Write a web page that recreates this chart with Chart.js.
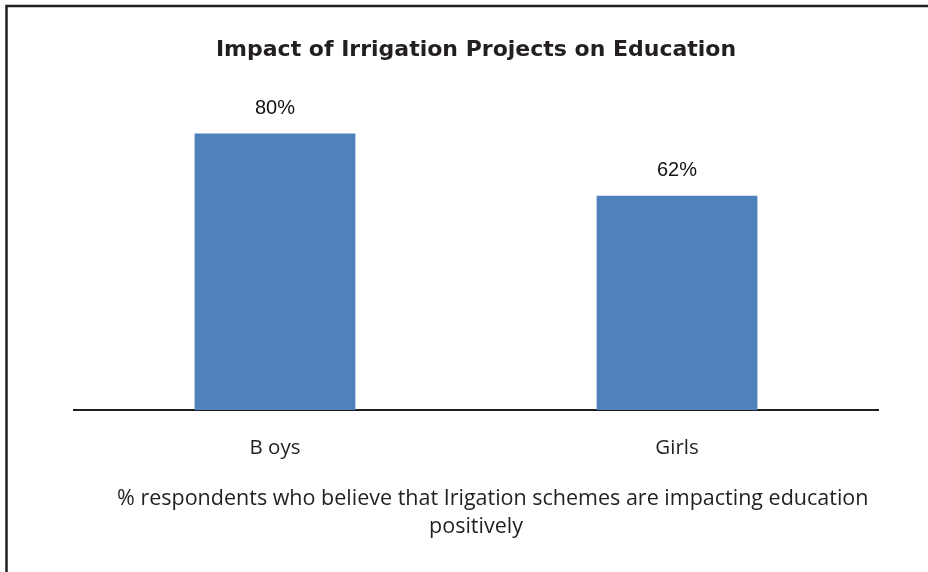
<!DOCTYPE html>
<html>
<head>
<meta charset="utf-8">
<script src="https://cdn.jsdelivr.net/npm/chart.js@4"></script>
<style>
html,body{margin:0;padding:0;background:#fff;}
#wrap{width:928px;height:572px;position:relative;}
</style>
</head>
<body>
<div id="wrap"><canvas id="c" width="928" height="572"></canvas></div>
<script>
const categories = ["B oys", "Girls"];
const values = [80, 62];
const valueLabels = ["80%", "62%"];
const chartTitle = "Impact of Irrigation Projects on Education";
const caption = ["      % respondents who believe that Irigation schemes are impacting education", "positively"];

const frame = {
  id: 'frame',
  beforeDraw(chart) {
    const ctx = chart.ctx;
    ctx.save();
    ctx.fillStyle = '#fff';
    ctx.fillRect(0, 0, chart.width, chart.height);
    ctx.strokeStyle = '#231f20';
    ctx.lineWidth = 2.5;
    ctx.beginPath();
    ctx.moveTo(6.5, chart.height + 5);
    ctx.lineTo(6.5, 6);
    ctx.lineTo(chart.width + 5, 6);
    ctx.stroke();
    ctx.restore();
  }
};
const valueLabelPlugin = {
  id: 'valueLabels',
  afterDatasetsDraw(chart) {
    const ctx = chart.ctx;
    const meta = chart.getDatasetMeta(0);
    ctx.save();
    ctx.font = '20px "Liberation Sans"';
    ctx.fillStyle = '#111';
    ctx.textAlign = 'center';
    ctx.textBaseline = 'middle';
    meta.data.forEach((bar, i) => {
      ctx.fillText(valueLabels[i], bar.x, bar.y - 25);
    });
    ctx.restore();
  }
};

new Chart(document.getElementById('c'), {
  type: 'bar',
  data: {
    labels: categories,
    datasets: [{
      data: values,
      backgroundColor: '#4F81BD',
      borderWidth: 0,
      barPercentage: 0.4,
      categoryPercentage: 1.0
    }]
  },
  options: {
    responsive: false,
    animation: false,
    devicePixelRatio: 1,
    layout: { padding: { left: 74, right: 50, top: 0, bottom: 0 } },
    plugins: {
      legend: { display: false },
      tooltip: { enabled: false },
      title: {
        display: true,
        text: chartTitle,
        color: '#231f20',
        font: { family: 'DejaVu Sans', size: 22, weight: 'bold', lineHeight: 1.2 },
        padding: { top: 37, bottom: 1 }
      }
    },
    scales: {
      y: { display: false, min: 0, max: 100 },
      x: {
        afterFit(scale) { scale.height = 162; },
        grid: { display: false, drawTicks: false },
        border: { display: true, color: '#231f20', width: 2 },
        ticks: {
          color: '#231f20',
          padding: 26,
          font: { family: 'Open Sans', size: 20.5 }
        },
        title: {
          display: true,
          text: caption,
          color: '#231f20',
          font: { family: 'Open Sans', size: 21.5, lineHeight: 1.3 },
          padding: { top: 10, bottom: 31 }
        }
      }
    }
  },
  plugins: [frame, valueLabelPlugin]
});
</script>
</body>
</html>
